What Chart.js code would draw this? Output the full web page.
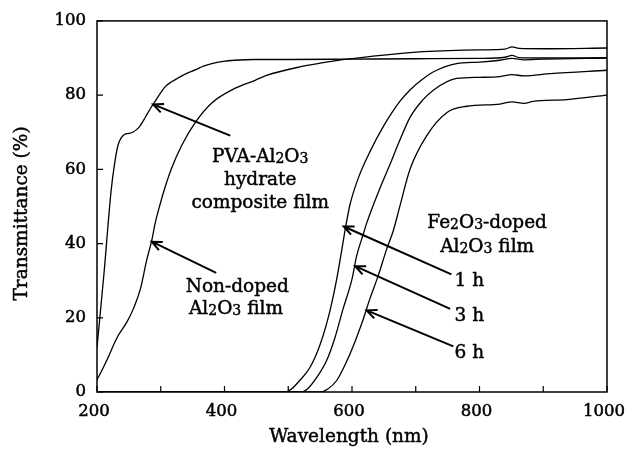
<!DOCTYPE html>
<html>
<head>
<meta charset="utf-8">
<script src="https://cdn.jsdelivr.net/npm/chart.js@4.4.0/dist/chart.umd.min.js"></script>
<style>
  html, body { margin: 0; padding: 0; background: #fff; }
  #wrap { width: 626px; height: 458px; }
</style>
</head>
<body>
<div id="wrap"><canvas id="spectra" width="626" height="458"></canvas></div>
<script>
// Transmittance spectra (wavelength in nm, transmittance in %)
const pvaWl = [200, 211, 222, 228, 233, 238, 243, 250, 256, 262, 267, 273, 280, 286, 291, 299, 307, 317, 327, 340, 354, 367, 380, 398, 416, 448, 500, 600, 700, 800, 840, 851, 862, 900, 1000];
const pvaT  = [12, 32, 54, 62, 66.5, 68.5, 69.4, 69.7, 70, 70.7, 71.6, 73.2, 75.3, 77, 78.3, 80.4, 82.3, 83.6, 84.6, 85.8, 86.8, 87.8, 88.5, 89.1, 89.4, 89.6, 89.6, 89.7, 89.8, 89.9, 90.2, 90.7, 90.1, 90, 90.1];

const plainWl = [200, 205, 215, 231, 247, 257, 268, 278, 286, 291, 299, 307, 317, 333, 354, 380, 416, 448, 466, 518, 550, 592, 650, 712, 801, 840, 851, 862, 900, 1000];
const plainT  = [3.3, 4.9, 8.4, 14.5, 18.9, 22.4, 27.7, 35.6, 40.9, 45.3, 50.6, 55.3, 60.3, 66.5, 72.6, 77.9, 81.8, 84, 85.3, 87.6, 88.6, 89.7, 90.8, 91.7, 92.2, 92.4, 93, 92.6, 92.5, 92.7];

const fe1Wl = [200, 495, 505, 518, 534, 550, 565, 576, 584, 590, 597, 610, 628, 649, 675, 691, 710, 728, 764, 800, 832, 851, 870, 900, 1000];
const fe1T  = [0, 0, 0.8, 3.1, 6.6, 12.8, 21.6, 30.4, 38.3, 44.5, 50.6, 57.7, 64.7, 71.5, 78.3, 81.4, 84.2, 86.3, 88.5, 88.9, 89.4, 89.9, 89.5, 89.7, 90];

const fe3Wl = [200, 520, 530, 545, 560, 573, 586, 600, 607, 618, 623, 644, 660, 673, 691, 710, 728, 764, 800, 832, 851, 870, 911, 1000];
const fe3T  = [0, 0, 0.8, 4, 8.4, 14.5, 22.4, 30.4, 36.5, 42.7, 45.5, 55, 61.5, 67, 74, 78.5, 81.4, 84.5, 84.8, 85, 85.5, 85.2, 85.8, 86.7];

const fe6Wl = [200, 550, 562, 576, 592, 605, 618, 628, 641, 654, 665, 675, 691, 717, 749, 780, 832, 851, 870, 884, 937, 1000];
const fe6T  = [0, 0, 0.8, 3.1, 8.4, 13.7, 19.8, 25.1, 31.3, 38.3, 43.6, 50, 60, 69, 75.3, 77, 77.6, 78.2, 77.8, 78.3, 78.8, 80];

const xTicks = [200, 400, 600, 800, 1000];
const yTicks = [0, 20, 40, 60, 80, 100];

// Callout texts; {n} is a subscript digit
const notes = [
  { text: 'PVA-Al{2}O{3}', at: [456, 63.8] },
  { text: 'hydrate', at: [456, 57.5] },
  { text: 'composite film', at: [456, 51.4] },
  { text: 'Non-doped', at: [420, 28.7] },
  { text: 'Al{2}O{3} film', at: [418, 22.9] },
  { text: 'Fe{2}O{3}-doped', at: [812, 46.1] },
  { text: 'Al{2}O{3} film', at: [812, 39.5] },
  { text: '1 h', at: [784, 30.4] },
  { text: '3 h', at: [784, 20.8] },
  { text: '6 h', at: [784, 11] }
];
// Arrows: from tail to head, data units
const arrows = [
  { from: [409, 69.1], to: [288, 77.5] },
  { from: [387, 32.1], to: [286, 40.5] },
  { from: [756, 31.7], to: [587, 44.6] },
  { from: [754, 22.4], to: [605, 33.9] },
  { from: [759, 12.3], to: [623, 22] }
];

const FONT = '"DejaVu Serif", "Liberation Serif", serif';

function pts(wl, t) {
  return wl.map((w, i) => ({ x: w, y: t[i] }));
}

function curve(label, wl, t) {
  return {
    label: label,
    data: pts(wl, t),
    borderColor: '#000',
    borderWidth: 1.3,
    pointRadius: 0,
    fill: false,
    cubicInterpolationMode: 'monotone'
  };
}

// draws a string with {n} subscripts centred at (x, y)
function richText(ctx, str, x, y, size) {
  const parts = [];
  str.replace(/\{(\d)\}|([^{}]+)/g, (m, sub, txt) => {
    parts.push(sub ? { s: sub, sub: true } : { s: txt, sub: false });
  });
  const big = size + 'px ' + FONT, small = Math.round(size * 0.76) + 'px ' + FONT;
  let w = 0;
  parts.forEach(p => { ctx.font = p.sub ? small : big; p.w = ctx.measureText(p.s).width; w += p.w; });
  let cx = x - w / 2;
  ctx.textBaseline = 'alphabetic';
  ctx.textAlign = 'left';
  parts.forEach(p => {
    ctx.font = p.sub ? small : big;
    const by = y + size * 0.36 + (p.sub ? 1 : 0);
    ctx.fillText(p.s, cx, by);
    ctx.strokeText(p.s, cx, by);
    cx += p.w;
  });
}

const decorations = {
  id: 'decorations',
  afterDatasetsDraw(chart) {
    const ctx = chart.ctx;
    const area = chart.chartArea;
    const xs = chart.scales.x, ys = chart.scales.y;
    ctx.save();
    ctx.strokeStyle = '#000';
    ctx.fillStyle = '#000';

    // frame
    ctx.lineWidth = 1.5;
    ctx.strokeRect(area.left, area.top, area.right - area.left, area.bottom - area.top);

    // inward tick marks
    ctx.lineWidth = 1.2;
    ctx.beginPath();
    xs.ticks.forEach(t => {
      const px = xs.getPixelForValue(t.value);
      ctx.moveTo(px, area.bottom);
      ctx.lineTo(px, area.bottom - 6);
    });
    ys.ticks.forEach(t => {
      const py = ys.getPixelForValue(t.value);
      ctx.moveTo(area.left, py);
      ctx.lineTo(area.left + 6, py);
    });
    ctx.stroke();

    // arrows
    ctx.lineWidth = 2;
    arrows.forEach(a => {
      const x0 = xs.getPixelForValue(a.from[0]), y0 = ys.getPixelForValue(a.from[1]);
      const x1 = xs.getPixelForValue(a.to[0]), y1 = ys.getPixelForValue(a.to[1]);
      const ang = Math.atan2(y1 - y0, x1 - x0);
      const hl = 11, spread = 0.42;
      ctx.beginPath();
      ctx.moveTo(x0, y0);
      ctx.lineTo(x1, y1);
      ctx.moveTo(x1 - hl * Math.cos(ang - spread), y1 - hl * Math.sin(ang - spread));
      ctx.lineTo(x1, y1);
      ctx.lineTo(x1 - hl * Math.cos(ang + spread), y1 - hl * Math.sin(ang + spread));
      ctx.stroke();
    });

    // callout labels
    ctx.lineWidth = 0.45;
    notes.forEach(n => {
      richText(ctx, n.text, xs.getPixelForValue(n.at[0]), ys.getPixelForValue(n.at[1]), 18.5);
    });

    // axis titles
    ctx.font = '18.5px ' + FONT;
    ctx.textAlign = 'center';
    ctx.textBaseline = 'middle';
    ctx.fillText('Wavelength (nm)', (area.left + area.right) / 2 - 3, 437);
    ctx.strokeText('Wavelength (nm)', (area.left + area.right) / 2 - 3, 437);
    ctx.translate(22, (area.top + area.bottom) / 2 + 7);
    ctx.rotate(-Math.PI / 2);
    ctx.fillText('Transmittance (%)', 0, 0);
    ctx.strokeText('Transmittance (%)', 0, 0);
    ctx.restore();
  }
};

const tickFont = { family: FONT, size: 16.5 };

const chart = new Chart(document.getElementById('spectra'), {
  type: 'line',
  data: {
    datasets: [
      curve('PVA-Al2O3 hydrate composite film', pvaWl, pvaT),
      curve('Non-doped Al2O3 film', plainWl, plainT),
      curve('Fe2O3-doped 1 h', fe1Wl, fe1T),
      curve('Fe2O3-doped 3 h', fe3Wl, fe3T),
      curve('Fe2O3-doped 6 h', fe6Wl, fe6T)
    ]
  },
  options: {
    responsive: false,
    animation: false,
    devicePixelRatio: 1,
    layout: { padding: { top: 13, right: 0, bottom: 0, left: 0 } },
    plugins: {
      legend: { display: false },
      tooltip: { enabled: false }
    },
    scales: {
      x: {
        type: 'linear',
        min: 200,
        max: 1000,
        grid: { display: false, drawTicks: false },
        border: { display: false },
        afterBuildTicks(scale) {
          scale.ticks = [];
          for (let v = 200; v <= 1000; v += 100) scale.ticks.push({ value: v });
        },
        ticks: {
          autoSkip: false,
          maxRotation: 0,
          padding: 10,
          labelOffset: -3,
          color: '#000',
          textStrokeColor: '#000',
          textStrokeWidth: 0.5,
          font: tickFont,
          callback: v => (xTicks.includes(v) ? String(v) : '')
        },
        afterFit(scale) {
          scale.height = 66;
          scale.paddingLeft = 0;
          scale.paddingRight = 19;
        }
      },
      y: {
        min: 0,
        max: 100,
        grid: { display: false, drawTicks: false },
        border: { display: false },
        afterBuildTicks(scale) {
          scale.ticks = yTicks.map(v => ({ value: v }));
        },
        ticks: {
          padding: 11,
          color: '#000',
          textStrokeColor: '#000',
          textStrokeWidth: 0.5,
          font: tickFont
        },
        afterFit(scale) {
          scale.width = 97;
        }
      }
    }
  },
  plugins: [decorations]
});
</script>
</body>
</html>
